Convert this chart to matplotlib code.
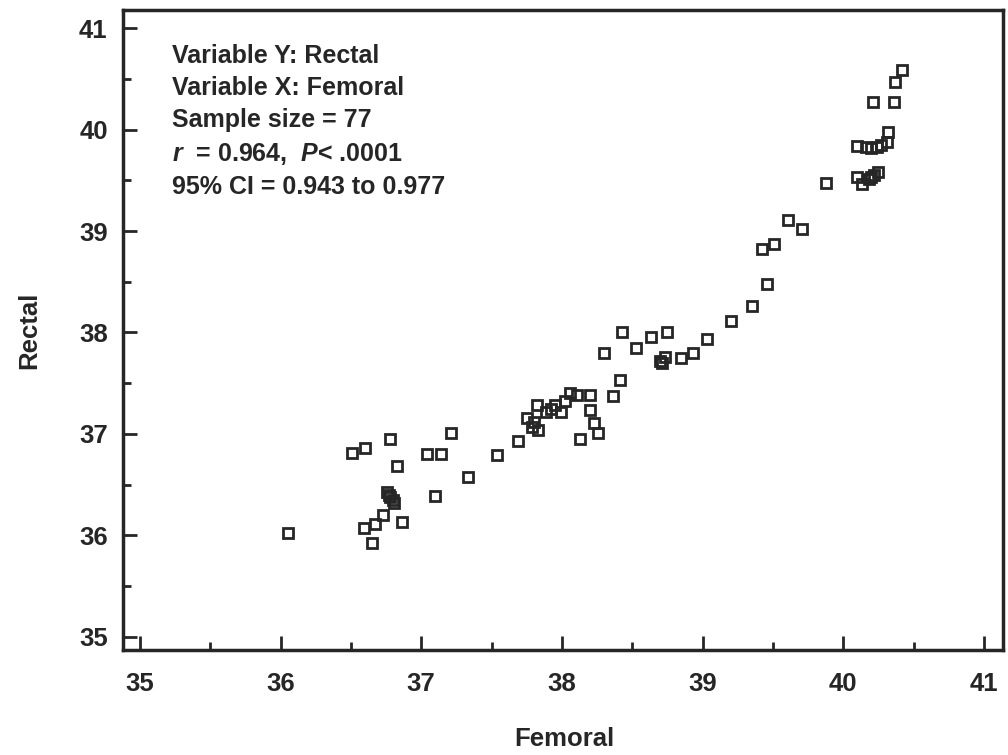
import numpy as np
import matplotlib.pyplot as plt

# femoral vs rectal temperature
femoral = [36.05, 36.51, 36.60, 36.78, 36.83, 37.04, 37.14, 37.21, 37.33, 37.10,
           36.76, 36.78, 36.81, 36.73, 36.67, 36.59, 36.65, 36.86,
           37.54, 37.69, 37.75, 37.79, 37.83, 37.82, 37.89, 37.95, 37.99, 38.02,
           38.06, 38.11, 38.20, 38.20, 38.23, 38.26, 38.13, 38.36, 38.41,
           38.30, 38.43, 38.53, 38.63, 38.75, 38.73, 38.71, 38.85, 38.93, 39.03,
           39.20, 39.35, 39.46, 39.42, 39.51, 39.61, 39.71, 39.88,
           40.10, 40.13, 40.18, 40.25, 40.10, 40.16, 40.24, 40.31, 40.32,
           40.21, 40.36, 40.37, 40.42,
           40.20, 40.22, 40.20, 40.27, 37.80, 37.92, 36.77, 36.80, 38.70]
rectal = [36.02, 36.81, 36.86, 36.95, 36.68, 36.80, 36.80, 37.01, 36.58, 36.39,
          36.43, 36.38, 36.32, 36.20, 36.11, 36.07, 35.93, 36.13,
          36.79, 36.93, 37.16, 37.07, 37.04, 37.29, 37.22, 37.29, 37.22, 37.32,
          37.40, 37.38, 37.38, 37.24, 37.11, 37.01, 36.95, 37.37, 37.53,
          37.80, 38.00, 37.85, 37.96, 38.00, 37.76, 37.70, 37.75, 37.80, 37.94,
          38.11, 38.26, 38.48, 38.82, 38.87, 39.11, 39.02, 39.47,
          39.53, 39.46, 39.51, 39.58, 39.84, 39.83, 39.83, 39.88, 39.98,
          40.27, 40.27, 40.47, 40.59,
          39.53, 39.55, 39.82, 39.85, 37.12, 37.25, 36.40, 36.35, 37.72]

stats = ['Variable Y: Rectal',
         'Variable X: Femoral',
         'Sample size = 77',
         r'$r$  = 0.964,  $P$< .0001',
         '95% CI = 0.943 to 0.977']

ink = '#262626'
plt.rcParams['font.family'] = 'Liberation Sans'
plt.rcParams['font.weight'] = 'bold'
plt.rcParams['axes.labelweight'] = 'bold'
plt.rcParams['mathtext.fontset'] = 'custom'
plt.rcParams['mathtext.it'] = 'Liberation Sans:italic:bold'
plt.rcParams['mathtext.rm'] = 'Liberation Sans:bold'

fig = plt.figure(figsize=(10.08, 7.55), dpi=100)
ax = fig.add_axes([0.122, 0.139, 0.873, 0.848])

ax.plot(femoral, rectal, 's', ms=7.8, mfc='none', mec=ink, mew=2.0)

ax.set_xlim(34.88, 41.135)
ax.set_ylim(34.87, 41.18)
ax.set_xticks(np.arange(35, 42, 1))
ax.set_yticks(np.arange(35, 42, 1))
ax.set_xticks(np.arange(35.5, 41, 1), minor=True)
ax.set_yticks(np.arange(35.5, 41, 1), minor=True)
ax.tick_params(which='major', direction='in', length=10, width=2, color=ink,
               labelsize=18.5, labelcolor=ink)
ax.tick_params(which='minor', direction='in', length=6, width=2, color=ink)
ax.tick_params(axis='x', pad=16)
ax.tick_params(axis='y', pad=11)
for s in ax.spines.values():
    s.set_linewidth(2.5)
    s.set_color(ink)

ax.set_xlabel('Femoral', fontsize=18.5, color=ink)
ax.set_ylabel('Rectal', fontsize=18.5, color=ink)
ax.xaxis.set_label_coords(0.502, -0.12)
ax.yaxis.set_label_coords(-0.093, 0.5)

ax.text(0.0557, 0.947, '\n'.join(stats), transform=ax.transAxes, va='top',
        ha='left', fontsize=18, color=ink, linespacing=1.43)

plt.savefig('out.png', dpi=100)
